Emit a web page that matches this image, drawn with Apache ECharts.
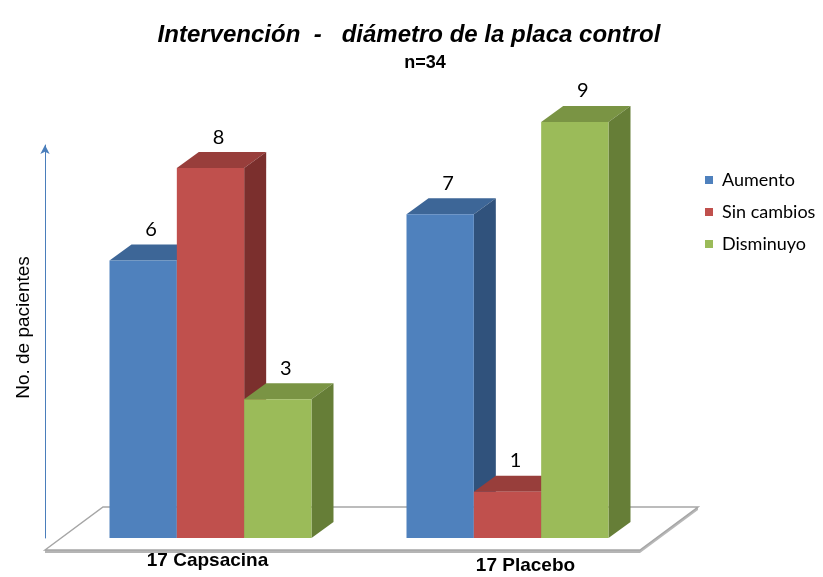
<!DOCTYPE html>
<html>
<head>
<meta charset="utf-8">
<script src="https://cdn.jsdelivr.net/npm/echarts@6/dist/echarts.min.js"></script>
<style>
  html, body { margin: 0; padding: 0; background: #fff; }
  #chart { width: 823px; height: 577px; }
</style>
</head>
<body>
<div id="chart"></div>
<script>
// Groups and counts per outcome
const categories = ['17 Capsacina', '17 Placebo'];
const seriesNames = ['Aumento', 'Sin cambios', 'Disminuyo'];
const aumento = [6, 7];
const sinCambios = [8, 1];
const disminuyo = [3, 9];

// Face colours: front, top, side
const palette = [
  { front: '#4f81bd', top: '#3d6697', side: '#30527c' },
  { front: '#c0504d', top: '#983e3b', side: '#7b2f2d' },
  { front: '#9bbb59', top: '#7a9444', side: '#667e37' }
];

// Oblique depth of the bars
const DX = 22, DY = 16;
const BAR_FRACTION = 0.2267;

function barRenderer(k) {
  const c = palette[k];
  return function (params, api) {
    const cat = api.value(0);
    const val = api.value(1);
    const base = api.coord([cat, 0]);
    const top = api.coord([cat, val]);
    const band = api.size([1, 0])[0];
    const w = band * BAR_FRACTION;
    const x0 = base[0] + (k - 1.5) * w;
    const x1 = x0 + w;
    const yb = base[1];
    const yt = top[1];
    return {
      type: 'group',
      children: [
        { type: 'polygon', shape: { points: [[x0, yt], [x0 + DX, yt - DY], [x1 + DX, yt - DY], [x1, yt]] },
          style: { fill: c.top } },
        { type: 'polygon', shape: { points: [[x1, yt], [x1 + DX, yt - DY], [x1 + DX, yb - DY], [x1, yb]] },
          style: { fill: c.side } },
        { type: 'rect', shape: { x: x0, y: yt, width: w, height: yb - yt },
          style: { fill: c.front } },
        { type: 'text', style: { text: String(val), x: x0 + w / 2 + 8, y: yt - DY - 5,
          align: 'center', verticalAlign: 'bottom', font: '20px Lato', fill: '#000' } }
      ]
    };
  };
}

// Floor plane under the bars
function floorRenderer(params, api) {
  const cs = params.coordSys;
  const zero = api.coord([0, 0])[1];
  const fy = zero + 12;
  const xl = cs.x - 17;
  const xr = cs.x + cs.width - 16;
  const bx = 58, by = 43;
  return {
    type: 'group',
    children: [
      { type: 'polygon', shape: { points: [[xr, fy], [xr + bx, fy - by], [xr + bx, fy - by + 3], [xr, fy + 3]] },
        style: { fill: '#b8b8b8' } },
      { type: 'rect', shape: { x: xl, y: fy, width: xr - xl, height: 3 },
        style: { fill: '#b5b5b5' } },
      { type: 'polygon', shape: { points: [[xl, fy], [xl + bx, fy - by], [xr + bx, fy - by], [xr, fy]] },
        style: { fill: '#ffffff', stroke: '#a6a6a6', lineWidth: 1.5 } }
    ]
  };
}

const valueSets = [aumento, sinCambios, disminuyo];

const series = [{
  type: 'custom',
  name: 'floor',
  silent: true,
  renderItem: floorRenderer,
  data: [[0, 0]],
  encode: { x: 0, y: 1 },
  z: 1
}];
valueSets.forEach(function (vals, k) {
  series.push({
    type: 'custom',
    name: seriesNames[k],
    renderItem: barRenderer(k),
    itemStyle: { color: palette[k].front },
    data: vals.map(function (v, i) { return [i, v]; }),
    encode: { x: 0, y: 1 },
    z: 2 + k
  });
});

const chart = echarts.init(document.getElementById('chart'), null, { renderer: 'canvas' });
chart.setOption({
  animation: false,
  backgroundColor: '#ffffff',
  title: [
    { text: 'Intervención  -   diámetro de la placa control', left: 404, top: 18, textAlign: 'center',
      textStyle: { fontFamily: 'Liberation Sans', fontSize: 24, fontWeight: 'bold', fontStyle: 'italic', color: '#000' } },
    { text: 'n=34', left: 420, top: 49, textAlign: 'center',
      textStyle: { fontFamily: 'Liberation Sans', fontSize: 18, fontWeight: 'bold', color: '#000' } }
  ],
  legend: {
    orient: 'vertical',
    left: 700,
    top: 165,
    icon: 'rect',
    itemWidth: 8,
    itemHeight: 8,
    itemGap: 12,
    data: seriesNames,
    textStyle: { fontFamily: 'Lato', fontSize: 18, lineHeight: 20, color: '#000', padding: [0, 0, 0, 4] }
  },
  grid: { left: 62, right: 167, top: 145, bottom: 39 },
  xAxis: {
    type: 'category',
    data: categories,
    axisLine: { show: false },
    axisTick: { show: false },
    axisLabel: {
      margin: 13,
      formatter: function (value, index) {
        return index === 0 ? '{a|' + value + '}' : '{b|' + value + '}';
      },
      rich: {
        a: { fontFamily: 'Liberation Sans', fontSize: 19, fontWeight: 'bold', color: '#000', padding: [0, 6, 0, 0] },
        b: { fontFamily: 'Liberation Sans', fontSize: 19, fontWeight: 'bold', color: '#000', padding: [5, 0, 0, 36] }
      }
    }
  },
  yAxis: {
    type: 'value',
    min: 0,
    max: 8.5,
    offset: 17,
    name: 'No. de pacientes',
    nameLocation: 'middle',
    nameGap: 12,
    nameRotate: 90,
    nameTextStyle: { fontFamily: 'Liberation Sans', fontSize: 19, color: '#000', padding: [0, 0, 0, 28] },
    axisLine: { show: true, symbol: ['none', 'arrow'], symbolSize: [7, 9], lineStyle: { color: '#4a7ebb', width: 1 } },
    axisTick: { show: false },
    axisLabel: { show: false },
    splitLine: { show: false }
  },
  series: series
});
</script>
</body>
</html>
